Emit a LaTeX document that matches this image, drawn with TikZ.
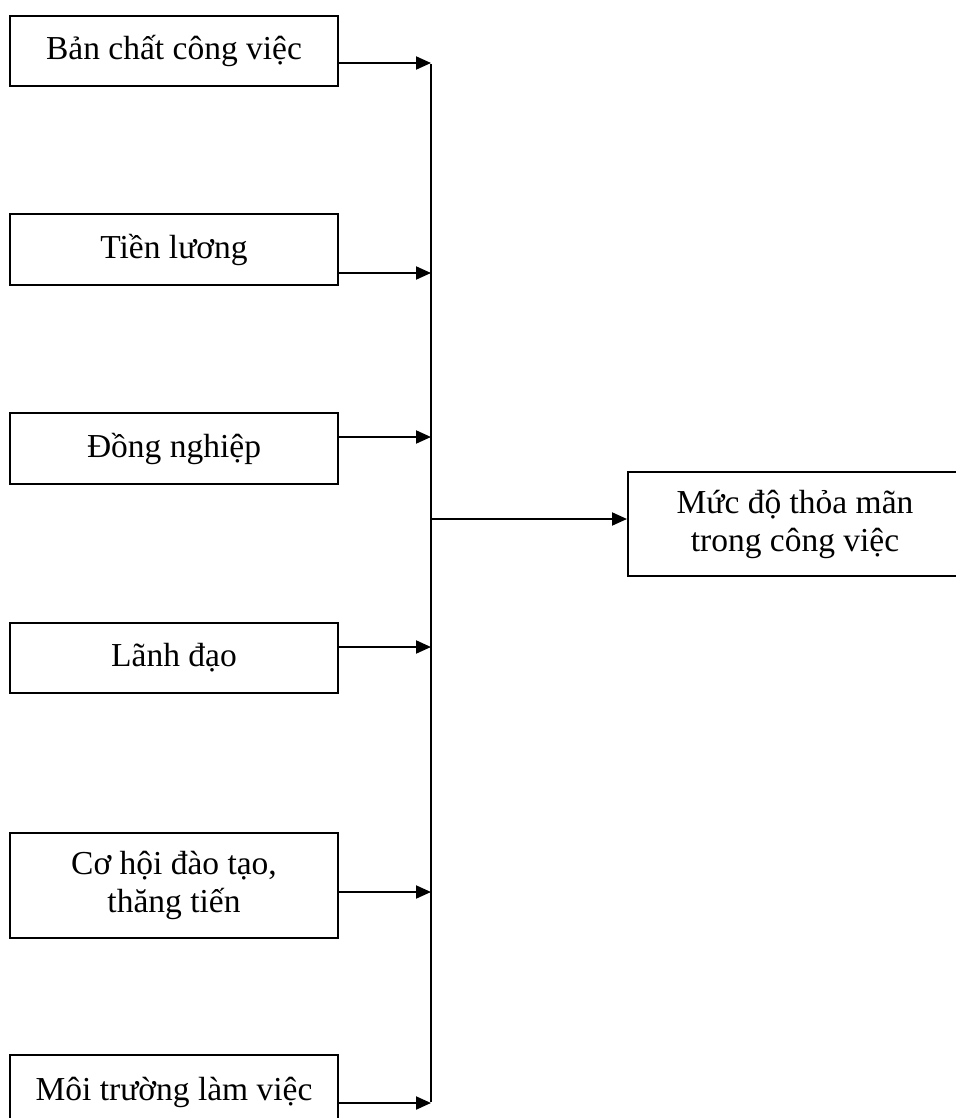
\documentclass[tikz,border=0pt]{standalone}
\usepackage{fontspec}
\setmainfont{Liberation Serif}
\usetikzlibrary{arrows.meta}
\begin{document}
\begin{tikzpicture}[x=1pt,y=-1pt,
  factor/.style={draw,line width=2pt,minimum width=328pt,inner sep=0pt,
    font=\fontsize{33.5pt}{38pt}\selectfont,align=center},
  conn/.style={line width=2pt},
  arr/.style={line width=2pt,-{Triangle[length=15pt,width=13pt]}}]
\useasboundingbox (0,0) rectangle (955,1118);
\node[factor,minimum height=70pt] (b1) at (174,51) {Bản chất công việc};
\node[factor,minimum height=71pt] (b2) at (174,249.5) {Tiền lương};
\node[factor,minimum height=71pt] (b3) at (174,448.5) {Đồng nghiệp};
\node[factor,minimum height=70pt] (b4) at (174,658) {Lãnh đạo};
\node[factor,minimum height=105pt] (b5) at (174,885.5) {Cơ hội đào tạo,\\thăng tiến};
\node[factor,minimum height=74pt] (b6) at (174,1092) {Môi trường làm việc};
\node[factor,minimum width=334pt,minimum height=104pt] (out) at (795,524) {Mức độ thỏa mãn\\trong công việc};
\coordinate (j1) at (431,63);
\coordinate (j2) at (431,273);
\coordinate (j3) at (431,437);
\coordinate (j4) at (431,647);
\coordinate (j5) at (431,892);
\coordinate (j6) at (431,1103);
\coordinate (jm) at (431,519);
\draw[conn] ([yshift=-1pt]j1) -- ([yshift=1pt]j6);
\foreach \i in {1,...,6}{
  \draw[arr] (j\i -| b\i.east) -- (j\i);
}
\draw[arr] (jm) -- (jm -| out.west);
\end{tikzpicture}
\end{document}
